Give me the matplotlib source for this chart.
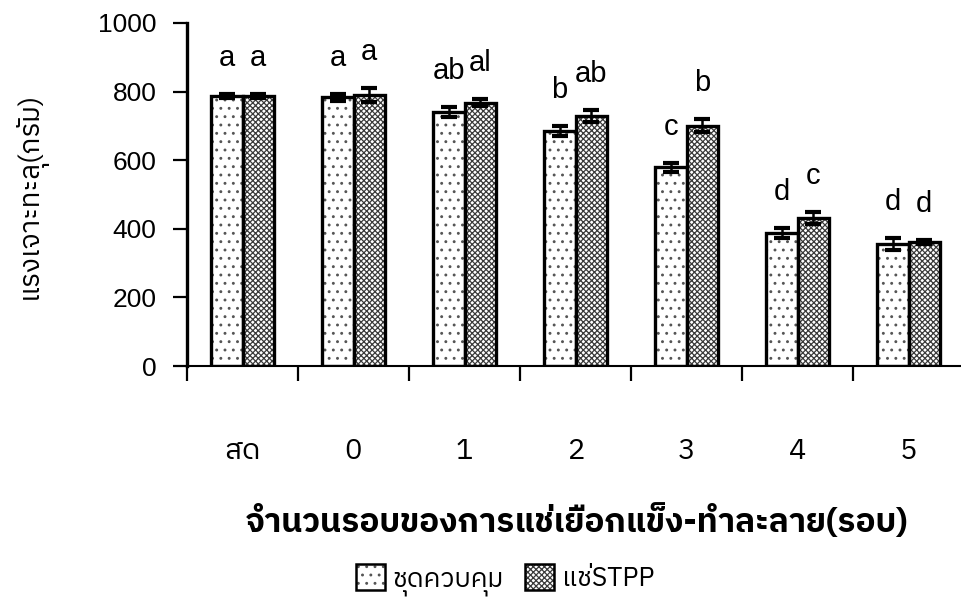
import numpy as np
import matplotlib
matplotlib.use("Agg")
import matplotlib.pyplot as plt
from matplotlib import font_manager
from matplotlib.patches import Patch
from matplotlib.legend_handler import HandlerTuple
from fontTools.ttLib import TTFont

# data
categories = ["สด", "0", "1", "2", "3", "4", "5"]
control = [787, 783, 741, 685, 580, 388, 356]
control_err = [6, 10, 15, 14, 13, 14, 18]
stpp = [787, 790, 767, 729, 700, 431, 362]
stpp_err = [6, 20, 10, 17, 19, 18, 6]
control_letters = ["a", "a", "ab", "b", "c", "d", "d"]
stpp_letters = ["a", "a", "al", "ab", "b", "c", "d"]
series_names = ["ชุดควบคุม", "แช่STPP"]
ylabel = "แรงเจาะทะลุ(กรัม)"
xlabel = "จำนวนรอบของการแช่เยือกแข็ง-ทำละลาย(รอบ)"


# find a family that has Thai glyphs
def thaiFamilies():
    found = []
    for f in font_manager.fontManager.ttflist:
        if f.name in found:
            continue
        try:
            tt = TTFont(f.fname, fontNumber=0, lazy=True)
            cmap = tt.getBestCmap()
            if cmap and 0x0E2A in cmap and 0x0E14 in cmap and 0x0E23 in cmap:
                found.append(f.name)
        except Exception:
            pass
    found.sort(key=lambda n: 0 if "Thai" in n else 1)
    return found

thai = thaiFamilies()
latin = "Liberation Sans"
fam = [latin] + thai + ["DejaVu Sans"]
thaiFam = thai + [latin, "DejaVu Sans"]

plt.rcParams["font.family"] = fam
plt.rcParams["hatch.linewidth"] = 0.9

fig = plt.figure(figsize=(9.61, 6.15), dpi=100)
ax = fig.add_axes([187 / 961, 249 / 615, 777 / 961, 343 / 615])

x = np.arange(len(categories))
w = 0.285

# hatched fill, then a black border on top
ax.bar(x - w / 2, control, w, color="white", edgecolor="#555555", hatch="..", linewidth=0)
ax.bar(x + w / 2, stpp, w, color="white", edgecolor="#3a3a3a", hatch="xxxxxx", linewidth=0)
ax.bar(x - w / 2, control, w, fill=False, edgecolor="black", linewidth=2.4)
ax.bar(x + w / 2, stpp, w, fill=False, edgecolor="black", linewidth=2.4)

ax.errorbar(x - w / 2, control, yerr=control_err, fmt="none", ecolor="black",
            elinewidth=1.8, capsize=6, capthick=3)
ax.errorbar(x + w / 2, stpp, yerr=stpp_err, fmt="none", ecolor="black",
            elinewidth=1.8, capsize=6, capthick=3)

for i in range(len(categories)):
    ax.text(x[i] - w / 2, control[i] + control_err[i] + 105, control_letters[i],
            ha="center", va="center", fontsize=21, family=latin)
    ax.text(x[i] + w / 2, stpp[i] + stpp_err[i] + 105, stpp_letters[i],
            ha="center", va="center", fontsize=21, family=latin)

ax.set_xlim(-0.5, len(categories) - 0.5)
ax.set_ylim(0, 1000)
ax.set_yticks(np.arange(0, 1001, 200))
ax.set_xticks(x)
ax.set_xticklabels(categories, family=thaiFam, fontsize=21)
ax.set_xticks(np.arange(-0.5, len(categories) - 0.5, 1), minor=True)

ax.tick_params(axis="x", which="major", length=0, pad=52)
ax.tick_params(axis="x", which="minor", length=11, width=1.6, direction="out")
ax.tick_params(axis="y", length=10, width=1.6, direction="out", pad=12, labelsize=19)

for s in ["top", "right"]:
    ax.spines[s].set_visible(False)
ax.spines["left"].set_linewidth(2.4)
ax.spines["bottom"].set_linewidth(1.5)
ax.spines["bottom"].set_bounds(-0.5, len(categories) - 0.5)

fig.text(30 / 961, 1 - 195 / 615, ylabel, rotation=90, ha="center", va="center",
         fontsize=20, family=thaiFam)
fig.text(577 / 961, 1 - 522 / 615, xlabel, ha="center", va="center",
         fontsize=24, fontweight="bold", family=thaiFam)

h1 = (Patch(facecolor="white", edgecolor="#555555", hatch="..", linewidth=0),
      Patch(fill=False, edgecolor="black", linewidth=1.8))
h2 = (Patch(facecolor="white", edgecolor="#3a3a3a", hatch="xxxxxx", linewidth=0),
      Patch(fill=False, edgecolor="black", linewidth=1.8))
fig.legend([h1, h2], series_names, handler_map={tuple: HandlerTuple(ndivide=1, pad=0)},
           loc="center", bbox_to_anchor=(505 / 961, 1 - 580 / 615), ncol=2, frameon=False,
           prop={"family": thaiFam, "size": 19}, handlelength=1.1, handleheight=1.1,
           handletextpad=0.3, columnspacing=0.8, borderpad=0)

fig.savefig("out.png", dpi=100)
